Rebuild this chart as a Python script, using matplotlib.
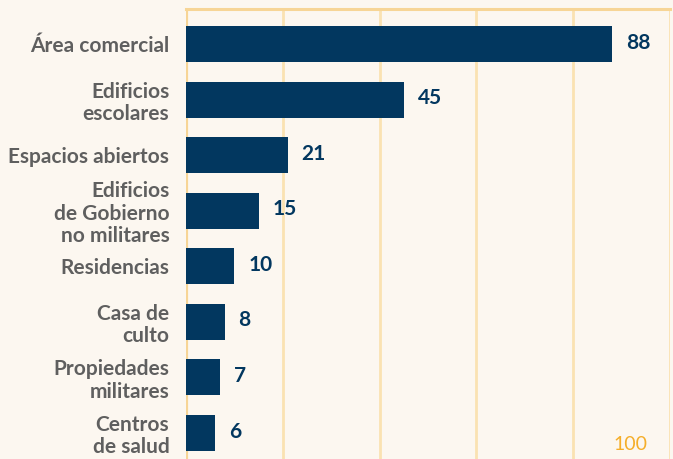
import matplotlib.pyplot as plt

# datos
categorias = ['Área comercial', 'Edificios\nescolares', 'Espacios abiertos',
              'Edificios\nde Gobierno\nno militares', 'Residencias',
              'Casa de\nculto', 'Propiedades\nmilitares', 'Centros\nde salud']
valores = [88, 45, 21, 15, 10, 8, 7, 6]
ticks_x = [0, 20, 40, 60, 80, 100]

fondo = '#fcf7f0'
azul = '#02375f'
gris = '#5f5f5f'
naranja_linea = '#fae2b2'

plt.rcParams['font.family'] = ['Lato', 'DejaVu Sans']

fig = plt.figure(figsize=(6.73, 4.59), dpi=100, facecolor=fondo)
ax = fig.add_axes([186 / 673, 0, (670 - 186) / 673, 450 / 459])
ax.set_facecolor(fondo)

pos = list(range(len(categorias)))
ax.barh(pos, valores, height=0.65, color=azul, zorder=3)

for p, v in zip(pos, valores):
    ax.annotate(str(v), xy=(v, p), xytext=(10, 1), textcoords='offset points',
                ha='left', va='center', fontsize=15, fontweight='bold',
                color=azul, zorder=4)

ax.set_xlim(0, 100)
ax.set_ylim(7.47, -0.63)

# lineas verticales
for t in ticks_x:
    if t == 0:
        ax.axvline(t, color='#f7d596', lw=3, zorder=1)
    else:
        ax.axvline(t, color=naranja_linea, lw=2, zorder=1)

for s in ['left', 'right', 'bottom']:
    ax.spines[s].set_visible(False)
ax.spines['top'].set_color('#f7d596')
ax.spines['top'].set_linewidth(2.2)

ax.set_xticks([])
ax.set_yticks(pos)
ax.set_yticklabels(categorias, fontsize=15, fontweight='bold', color=gris,
                   linespacing=1.15)
ax.tick_params(axis='y', length=0, pad=12)

ax.text(95.3, 7.2, '100', ha='right', va='center', fontsize=14,
        color='#f5ae2a')

fig.savefig('out.png', dpi=100, facecolor=fondo)
